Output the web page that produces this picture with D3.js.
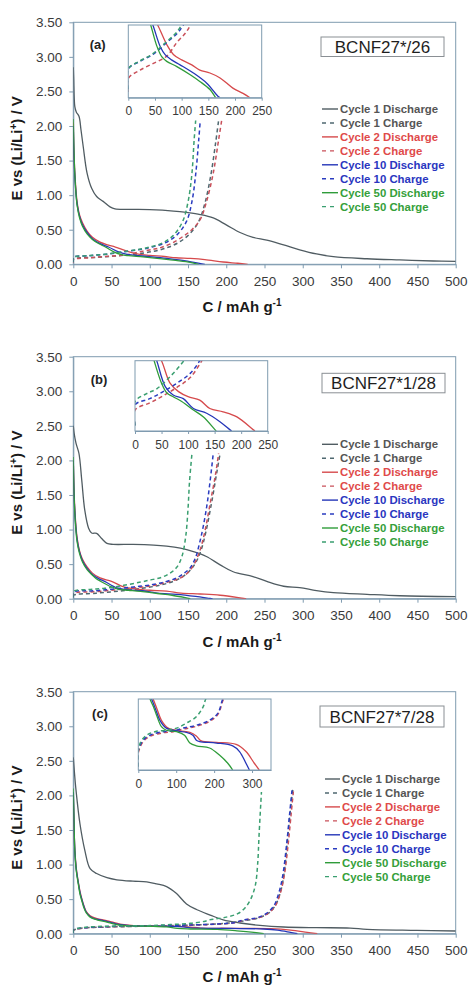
<!DOCTYPE html>
<html>
<head>
<meta charset="utf-8">
<script src="https://cdn.jsdelivr.net/npm/d3@7"></script>
<style>
  html, body { margin: 0; padding: 0; background: #fff; }
  svg { display: block; font-family: "Liberation Sans", Arial, sans-serif; }
</style>
</head>
<body>
<svg id="chart" width="468" height="985"></svg>
<script>
// ---- axis ticks and labels ----
const capTicks = [0, 50, 100, 150, 200, 250, 300, 350, 400, 450, 500];
const voltTicks = [0, 0.5, 1.0, 1.5, 2.0, 2.5, 3.0, 3.5];
const insetTicksAB = [0, 50, 100, 150, 200, 250];
const insetTicksC = [0, 100, 200, 300];
const panelTags = ["(a)", "(b)", "(c)"];
const sampleNames = ["BCNF27*/26", "BCNF27*1/28", "BCNF27*7/28"];
const seriesNames = [
  "Cycle 1 Discharge", "Cycle 1 Charge",
  "Cycle 2 Discharge", "Cycle 2 Charge",
  "Cycle 10 Discharge", "Cycle 10 Charge",
  "Cycle 50 Discharge", "Cycle 50 Charge"
];

// ---- galvanostatic curves: [capacity mAh/g, potential V] ----
// sample BCNF27*/26
const a_c1Discharge = [[0,2.85],[0.5,2.69],[2,2.28],[4,2.2],[7.4,2.14],[10,1.95],[13,1.70],[18,1.32],[24,1.10],[30.5,0.98],[39,0.91],[48,0.83],[54.5,0.80],[78,0.795],[100,0.79],[131,0.77],[148,0.75],[166,0.72],[183,0.67],[200,0.57],[218,0.46],[235,0.39],[253,0.35],[275,0.28],[296,0.21],[318,0.15],[340,0.11],[384,0.08],[427,0.063],[471,0.048],[500,0.043]];
const a_c1Charge = [[0,0.03],[0.3,0.075],[30,0.1],[60,0.125],[90,0.16],[110,0.2],[125,0.25],[140,0.33],[153,0.45],[164,0.62],[172,0.88],[180,1.3],[186,1.75],[190,2.08]];
const a_c2Discharge = [[0,2.05],[1,1.55],[3,1.15],[5,0.9],[8,0.72],[12,0.6],[18,0.48],[25,0.39],[35,0.32],[45,0.28],[55,0.25],[72,0.183],[85,0.148],[100,0.13],[119,0.113],[134,0.095],[153,0.085],[172,0.068],[196,0.033],[215,0.015],[228,0]];
const a_c2Charge = [[0,0.02],[0.3,0.067],[22,0.095],[47,0.118],[72,0.143],[91,0.19],[106,0.22],[115,0.245],[128,0.3],[143,0.4],[155,0.5],[166,0.65],[174,0.9],[183,1.32],[190,1.8],[194,2.08]];
const a_c10Discharge = [[0,2.0],[1,1.5],[3,1.1],[5,0.87],[8,0.7],[12,0.57],[18,0.46],[25,0.37],[35,0.3],[46,0.25],[60,0.175],[69,0.148],[81,0.13],[97,0.113],[122,0.085],[147,0.05],[168,0.005],[172,0]];
const a_c10Charge = [[0,0.03],[0.3,0.1],[22,0.125],[47,0.15],[72,0.19],[91,0.22],[103,0.25],[120,0.31],[135,0.42],[148,0.62],[155,0.9],[160,1.3],[164,1.8],[166,2.08]];
const a_c50Discharge = [[0,2.1],[1,1.6],[3,1.1],[5,0.85],[8,0.68],[12,0.55],[18,0.44],[25,0.36],[33,0.3],[42,0.25],[53,0.18],[63,0.14],[72,0.125],[91,0.107],[116,0.079],[134,0.056],[153,0.028],[162,0.005],[164,0]];
const a_c50Charge = [[0,0.03],[0.3,0.1],[20,0.125],[45,0.15],[70,0.19],[88,0.22],[100,0.25],[117,0.31],[131,0.42],[143,0.62],[150,0.9],[155,1.3],[158,1.8],[160,2.08]];

// sample BCNF27*1/28
const b_c1Discharge = [[0,2.5],[1,2.4],[3.5,2.25],[7.4,2.1],[11,1.72],[15,1.28],[20,1.02],[24,0.95],[30.5,0.945],[37,0.87],[44,0.8],[52,0.786],[78,0.786],[105,0.776],[122,0.76],[140,0.73],[157,0.68],[174,0.61],[192,0.49],[209,0.39],[235,0.32],[253,0.25],[275,0.18],[296,0.16],[318,0.116],[340,0.087],[384,0.063],[427,0.043],[500,0.029]];
const b_c1Charge = [[0,0.03],[0.3,0.05],[30,0.08],[60,0.11],[90,0.15],[115,0.2],[135,0.27],[150,0.38],[160,0.52],[167,0.7],[173,0.95],[181,1.4],[188,1.85],[192,2.1]];
const b_c2Discharge = [[0,2.0],[1,1.55],[3,1.12],[5,0.88],[8,0.7],[12,0.57],[18,0.46],[25,0.37],[35,0.3],[50,0.25],[66,0.17],[82,0.14],[100,0.122],[122,0.11],[141,0.08],[166,0.068],[192,0.05],[223,0.004],[226,0]];
const b_c2Charge = [[0,0.02],[0.3,0.075],[28,0.1],[53,0.125],[79,0.155],[104,0.19],[126,0.25],[140,0.3],[150,0.38],[158,0.5],[165,0.68],[171,0.92],[179,1.38],[186,1.8],[190,2.1]];
const b_c10Discharge = [[0,2.0],[1,1.5],[3,1.08],[5,0.85],[8,0.68],[12,0.55],[18,0.44],[25,0.35],[33,0.29],[41,0.25],[57,0.158],[72,0.128],[91,0.115],[110,0.08],[135,0.063],[160,0.033],[179,0.004],[182,0]];
const b_c10Charge = [[0,0.02],[0.3,0.093],[28,0.115],[53,0.14],[79,0.17],[104,0.205],[122,0.25],[135,0.3],[145,0.37],[153,0.45],[160,0.6],[165,0.8],[170,1.05],[176,1.45],[183,2.1]];
const b_c50Discharge = [[0,2.05],[1,1.5],[3,1.05],[5,0.82],[8,0.66],[12,0.53],[18,0.42],[25,0.34],[30,0.29],[36,0.25],[50,0.17],[60,0.135],[72,0.122],[88,0.105],[110,0.075],[129,0.05],[151,0.004],[153,0]];
const b_c50Charge = [[0,0.02],[0.3,0.105],[22,0.133],[41,0.15],[66,0.193],[88,0.24],[100,0.27],[113,0.3],[125,0.36],[135,0.45],[142,0.61],[147,0.9],[150,1.3],[152,1.7],[155,2.08]];

// sample BCNF27*7/28
const c_c1Discharge = [[0,2.55],[1,2.4],[3.5,2.08],[8.7,1.59],[15,1.21],[22,0.94],[30.5,0.87],[44,0.81],[57,0.78],[78,0.76],[96,0.75],[109,0.72],[122,0.68],[135,0.58],[148,0.43],[161,0.35],[179,0.27],[196,0.2],[218,0.155],[244,0.12],[275,0.097],[318,0.087],[362,0.082],[384,0.063],[449,0.048],[500,0.039]];
const c_c1Charge = [[0,0.03],[0.3,0.05],[10,0.08],[40,0.095],[80,0.105],[120,0.115],[160,0.128],[200,0.15],[225,0.19],[245,0.24],[258,0.32],[266,0.45],[272,0.65],[276,0.9],[280,1.35],[284,1.8],[287,2.08]];
const c_c2Discharge = [[0,2.0],[1,1.55],[2,1.22],[4,0.94],[6.5,0.75],[9,0.6],[11,0.51],[14,0.4],[17,0.32],[22,0.26],[30,0.22],[39,0.2],[50,0.17],[61,0.14],[79,0.118],[110,0.11],[136,0.106],[153,0.096],[166,0.082],[206,0.078],[258,0.072],[284,0.052],[306,0.019],[319,0]];
const c_c2Charge = [[0,0.01],[0.3,0.05],[13,0.08],[31,0.095],[66,0.105],[92,0.108],[118,0.115],[153,0.123],[188,0.137],[210,0.157],[225,0.2],[242,0.23],[254,0.29],[264,0.4],[271,0.6],[276,0.85],[281,1.3],[285,1.75],[288,2.08]];
const c_c10Discharge = [[0,2.05],[1,1.55],[2,1.2],[4,0.92],[6.5,0.74],[9,0.58],[11,0.5],[14,0.39],[17,0.31],[22,0.25],[28,0.215],[35,0.2],[46,0.17],[57,0.14],[74,0.118],[101,0.11],[127,0.106],[144,0.098],[153,0.084],[162,0.08],[206,0.076],[249,0.068],[267,0.052],[284,0.019],[293,0]];
const c_c10Charge = [[0,0.01],[0.3,0.056],[13,0.084],[31,0.098],[66,0.108],[92,0.11],[118,0.118],[153,0.126],[188,0.14],[210,0.16],[223,0.2],[240,0.23],[252,0.29],[262,0.4],[269,0.6],[274,0.85],[279,1.3],[283,1.75],[286,2.08]];
const c_c50Discharge = [[0,2.1],[1,1.6],[2,1.2],[4,0.9],[6.5,0.72],[9,0.56],[11,0.48],[14,0.37],[17,0.3],[22,0.24],[31,0.2],[40,0.178],[48,0.155],[61,0.122],[74,0.112],[101,0.108],[122,0.098],[136,0.076],[153,0.068],[188,0.062],[214,0.042],[236,0.019],[249,0]];
const c_c50Charge = [[0,0.01],[0.3,0.056],[7,0.08],[22,0.098],[44,0.108],[74,0.112],[101,0.118],[127,0.132],[153,0.15],[171,0.178],[178,0.2],[200,0.24],[215,0.29],[225,0.38],[232,0.5],[238,0.7],[241,1.0],[243,1.45],[246,2.05]];

// ---- styling ----
const lineColors = ["#505c62", "#4f6870", "#d64a4c", "#c9505a", "#2536b8", "#2a3cc0", "#2f9c3a", "#3a9f70"];
const textColors = ["#555555", "#555555", "#e04a4a", "#e04a4a", "#2a36c0", "#2a36c0", "#35a03a", "#35a03a"];
const frameColor = "#7f9bb0";
const tickTextColor = "#3a3a3a";

const panelSeries = [
  [a_c1Discharge, a_c1Charge, a_c2Discharge, a_c2Charge, a_c10Discharge, a_c10Charge, a_c50Discharge, a_c50Charge],
  [b_c1Discharge, b_c1Charge, b_c2Discharge, b_c2Charge, b_c10Discharge, b_c10Charge, b_c50Discharge, b_c50Charge],
  [c_c1Discharge, c_c1Charge, c_c2Discharge, c_c2Charge, c_c10Discharge, c_c10Charge, c_c50Discharge, c_c50Charge]
];

// ---- layout ----
const plotLeft = 73.3, plotRight = 455.7, plotH = 242;
const panelTops = [22.3, 356.7, 691.7];
const insets = [
  { x0: 128.3, x1: 261.7, y0: 25, y1: 97.7, xMax: 250, vTop: 0.25, ticks: insetTicksAB },
  { x0: 135, x1: 267.7, y0: 360.7, y1: 431, xMax: 250, vTop: 0.25, ticks: insetTicksAB },
  { x0: 138.3, x1: 271, y0: 699, y1: 770, xMax: 350, vTop: 0.2, ticks: insetTicksC }
];
const nameBoxes = [
  { x: 321, y: 37, w: 123, h: 19.5 },
  { x: 322, y: 373.3, w: 123, h: 19.5 },
  { x: 320, y: 706, w: 124, h: 21 }
];
const tagPos = [[97.7, 44.3], [99, 379.3], [100, 713]];
const legendPos = [
  { lx0: 322, lx1: 338, tx: 340, y0: 109 },
  { lx0: 322, lx1: 338, tx: 340, y0: 444.3 },
  { lx0: 325, lx1: 340, tx: 342, y0: 779 }
];
const legendStep = 13.95;

const svg = d3.select("#chart");
const defs = svg.append("defs");

function styleAxis(sel, fontSize) {
  sel.select(".domain").attr("stroke", frameColor).attr("stroke-width", 1);
  sel.selectAll(".tick line").attr("stroke", frameColor);
  sel.selectAll(".tick text")
    .attr("fill", tickTextColor)
    .attr("font-size", fontSize + "px")
    .attr("font-family", '"Liberation Sans", Arial, sans-serif');
}

// draws the series whose index passes `keep`
function drawSeries(g, series, x, y, keep) {
  const line = d3.line()
    .x(d => x(d[0]))
    .y(d => y(d[1]))
    .curve(d3.curveCatmullRom.alpha(0.5));
  series.forEach((pts, i) => {
    if (!keep(i)) return;
    const charge = i % 2 === 1;
    g.append("path")
      .datum(pts)
      .attr("d", line)
      .attr("fill", "none")
      .attr("stroke", lineColors[i])
      .attr("stroke-width", charge ? 1.5 : 1.3)
      .attr("stroke-dasharray", charge ? "4,3" : null)
      .attr("stroke-linejoin", "round");
  });
}

panelSeries.forEach((series, p) => {
  const top = panelTops[p];
  const bottom = top + plotH;
  const g = svg.append("g");

  const x = d3.scaleLinear().domain([0, 500]).range([plotLeft, plotRight]);
  const y = d3.scaleLinear().domain([0, 3.5]).range([bottom, top]);

  // plot frame
  g.append("rect")
    .attr("x", plotLeft).attr("y", top)
    .attr("width", plotRight - plotLeft).attr("height", plotH)
    .attr("fill", "#fff").attr("stroke", frameColor).attr("stroke-width", 1);

  // axes
  const gx = g.append("g").attr("transform", `translate(0,${bottom})`)
    .call(d3.axisBottom(x).tickValues(capTicks).tickSize(4).tickSizeOuter(0).tickPadding(8).tickFormat(d3.format("d")));
  styleAxis(gx, 13.5);
  const gy = g.append("g").attr("transform", `translate(${plotLeft},0)`)
    .call(d3.axisLeft(y).tickValues(voltTicks).tickSize(4).tickSizeOuter(0).tickPadding(7).tickFormat(d3.format(".2f")));
  styleAxis(gy, 13.5);

  // curves
  const clipId = "clip-main-" + p;
  defs.append("clipPath").attr("id", clipId).append("rect")
    .attr("x", plotLeft).attr("y", top).attr("width", plotRight - plotLeft).attr("height", plotH);
  drawSeries(g.append("g").attr("clip-path", `url(#${clipId})`), series, x, y, () => true);

  // axis titles
  const yt = g.append("text")
    .attr("transform", `translate(22,${top + plotH / 2 + 5}) rotate(-90)`)
    .attr("text-anchor", "middle")
    .attr("font-size", "15px").attr("font-weight", "bold").attr("fill", "#1a1a1a");
  yt.append("tspan").text("E vs (Li/Li");
  yt.append("tspan").attr("dy", -5).attr("font-size", "10px").text("+");
  yt.append("tspan").attr("dy", 5).text(") / V");

  const xt = g.append("text")
    .attr("x", 242).attr("y", bottom + 48)
    .attr("text-anchor", "middle")
    .attr("font-size", "15px").attr("font-weight", "bold").attr("fill", "#1a1a1a");
  xt.append("tspan").text("C / mAh g");
  xt.append("tspan").attr("dy", -6).attr("font-size", "10px").text("-1");

  // panel tag
  g.append("text")
    .attr("x", tagPos[p][0]).attr("y", tagPos[p][1] + 4.5)
    .attr("text-anchor", "middle")
    .attr("font-size", "13px").attr("font-weight", "bold").attr("fill", "#222")
    .text(panelTags[p]);

  // sample name box
  const nb = nameBoxes[p];
  g.append("rect")
    .attr("x", nb.x).attr("y", nb.y).attr("width", nb.w).attr("height", nb.h)
    .attr("fill", "#fff").attr("stroke", "#8a8f94").attr("stroke-width", 1);
  g.append("text")
    .attr("x", nb.x + nb.w / 2).attr("y", nb.y + nb.h / 2 + 6)
    .attr("text-anchor", "middle")
    .attr("font-size", "17px").attr("fill", "#1e1e1e")
    .text(sampleNames[p]);

  // legend
  const lp = legendPos[p];
  seriesNames.forEach((name, i) => {
    const yy = lp.y0 + i * legendStep;
    const charge = i % 2 === 1;
    g.append("line")
      .attr("x1", lp.lx0).attr("x2", lp.lx1).attr("y1", yy).attr("y2", yy)
      .attr("stroke", lineColors[i]).attr("stroke-width", 1.4)
      .attr("stroke-dasharray", charge ? "4,4" : null);
    g.append("text")
      .attr("x", lp.tx).attr("y", yy + 4)
      .attr("font-size", "11.4px").attr("font-weight", "bold")
      .attr("fill", textColors[i])
      .text(name);
  });

  // inset: low-potential detail of cycles 2, 10 and 50
  const ins = insets[p];
  const xi = d3.scaleLinear().domain([0, ins.xMax]).range([ins.x0, ins.x1]);
  const yi = d3.scaleLinear().domain([0, ins.vTop]).range([ins.y1, ins.y0]);
  g.append("rect")
    .attr("x", ins.x0).attr("y", ins.y0)
    .attr("width", ins.x1 - ins.x0).attr("height", ins.y1 - ins.y0)
    .attr("fill", "#fff");
  const insClip = "clip-inset-" + p;
  defs.append("clipPath").attr("id", insClip).append("rect")
    .attr("x", ins.x0).attr("y", ins.y0)
    .attr("width", ins.x1 - ins.x0).attr("height", ins.y1 - ins.y0);
  drawSeries(g.append("g").attr("clip-path", `url(#${insClip})`), series, xi, yi, i => i >= 2);
  g.append("rect")
    .attr("x", ins.x0).attr("y", ins.y0)
    .attr("width", ins.x1 - ins.x0).attr("height", ins.y1 - ins.y0)
    .attr("fill", "none").attr("stroke", frameColor).attr("stroke-width", 1);
  const gxi = g.append("g").attr("transform", `translate(0,${ins.y1})`)
    .call(d3.axisBottom(xi).tickValues(ins.ticks).tickSize(3).tickSizeOuter(0).tickPadding(6).tickFormat(d3.format("d")));
  styleAxis(gxi, 12);
});
</script>
</body>
</html>
